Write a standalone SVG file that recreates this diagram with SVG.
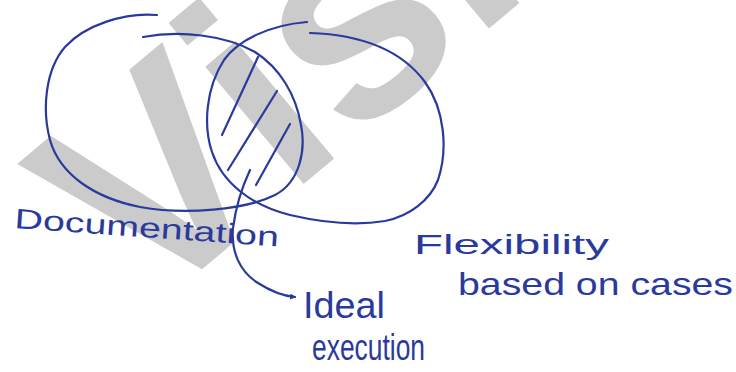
<svg xmlns="http://www.w3.org/2000/svg" width="736" height="372" viewBox="0 0 736 372">
  <style>
    .pen { fill: none; stroke: #2a3a9c; stroke-width: 2.2; stroke-linecap: round; stroke-linejoin: round; }
    .hand { font-family: "Liberation Sans", "DejaVu Sans", sans-serif; fill: #2a3a9c; }
    .wm { font-family: "Liberation Sans", "DejaVu Sans", sans-serif; font-weight: bold; fill: #cbcbcb; }
  </style>
  <defs>
    <marker id="arrow" viewBox="0 0 10 10" refX="8" refY="5" markerWidth="6" markerHeight="6" orient="auto" markerUnits="userSpaceOnUse">
      <path d="M0,0 L10,5 L0,10 z" fill="#2a3a9c"/>
    </marker>
  </defs>
  <rect width="736" height="372" fill="#ffffff"/>
  <g id="watermark">
    <text class="wm" font-size="290" transform="translate(144,318) rotate(-40)">Visi</text>
  </g>
  <g id="set-documentation">
    <path class="pen" d="M157,15 C125,12 85,25 65,47 C45,70 42,110 50,140 C60,175 95,198 140,207 C185,215 245,210 275,195 C300,182 306,150 301,125 C296,95 280,68 255,52 C225,35 180,30 143,37"/>
    <text class="hand" font-size="28" transform="translate(14,228) rotate(4)" textLength="265" lengthAdjust="spacingAndGlyphs">Documentation</text>
  </g>
  <g id="set-flexibility">
    <path class="pen" d="M307,22 C270,25 238,40 224,60 C206,88 203,125 212,152 C222,182 250,205 290,215 C320,222 355,226 385,221 C410,216 430,200 438,180 C448,150 445,110 425,82 C405,55 370,35 310,33"/>
    <text class="hand" font-size="28" x="414" y="254" textLength="195" lengthAdjust="spacingAndGlyphs">Flexibility</text>
    <text class="hand" font-size="32" x="458" y="295" textLength="275" lengthAdjust="spacingAndGlyphs">based on cases</text>
  </g>
  <g id="intersection">
    <path class="pen" d="M222,135 L258,57 M228,170 L277,91 M256,185 L290,124"/>
  </g>
  <g id="connectors">
    <path class="pen" d="M250,170 C243,185 236,205 233,228 C231,252 240,272 258,283 C272,292 284,296 295,297" marker-end="url(#arrow)"/>
  </g>
  <g id="ideal-execution">
    <text class="hand" font-size="36" x="303" y="318" textLength="82" lengthAdjust="spacingAndGlyphs">Ideal</text>
    <text class="hand" font-size="36" x="312" y="360" textLength="113" lengthAdjust="spacingAndGlyphs">execution</text>
  </g>
</svg>
